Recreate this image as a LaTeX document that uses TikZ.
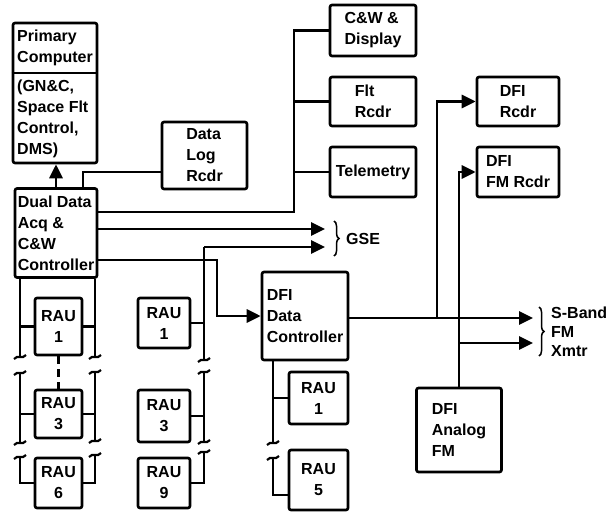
\documentclass[tikz,border=0pt]{standalone}
\usepackage{fontspec}
\setmainfont{Liberation Sans}
\usetikzlibrary{arrows.meta,decorations.pathreplacing,calc}
\tikzset{
  box/.style={draw, line width=2.6pt, rounded corners=2pt, inner sep=0pt,
    font=\fontsize{16}{21}\selectfont\bfseries, align=left},
  rau/.style={box, align=center},
  txt/.style={font=\fontsize{16}{21}\selectfont\bfseries, inner sep=0pt, align=left},
  ln/.style={line width=2.9pt},
  arr/.style={ln, -{Triangle[length=14pt,width=13pt]}},
  brk/.pic={\draw[line width=2.2pt] (-6,2) .. controls (-2,-3) and (2,3) .. (6,-2);},
  brc/.style={decorate, decoration={brace, amplitude=5pt}, line width=1.5pt}
}
\begin{document}
\begin{tikzpicture}[x=1pt,y=-1pt]
\useasboundingbox (0,0) rectangle (607,513);

% boxes
\node[box, minimum width=84pt, minimum height=140pt] (pc) at (55,93) {};
\node[txt, anchor=west] (pct) at (17,48) {Primary\\Computer};
\node[txt, anchor=west] (pcb) at (17,119) {(GN\&C,\\Space Flt\\Control,\\DMS)};
\node[box, minimum width=82pt, minimum height=89pt] (dd) at (56,233) {Dual Data\\Acq \&\\C\&W\\Controller};
\node[box, minimum width=85pt, minimum height=67pt] (dl) at (204.5,155.5) {Data\\Log\\Rcdr};
\node[box, minimum width=86pt, minimum height=51pt] (cw) at (373,30.5) {C\&W \&\\Display};
\node[box, minimum width=86pt, minimum height=49pt] (flt) at (373,101.5) {Flt\\Rcdr};
\node[box, minimum width=86pt, minimum height=50pt] (tel) at (373,172) {Telemetry};
\node[box, minimum width=86pt, minimum height=88pt] (dfic) at (305,316) {DFI\\Data\\Controller};
\node[box, minimum width=82pt, minimum height=49pt] (dfr) at (518,101.5) {DFI\\Rcdr};
\node[box, minimum width=82pt, minimum height=50pt] (dffm) at (518,172) {DFI\\FM Rcdr};
\node[box, minimum width=85pt, minimum height=84pt] (dfa) at (459,430) {DFI\\Analog\\FM};

\node[rau, minimum width=47pt, minimum height=57pt] (r1a) at (58.5,326.5) {RAU\\1};
\node[rau, minimum width=47pt, minimum height=48pt] (r3a) at (58.5,414) {RAU\\3};
\node[rau, minimum width=47pt, minimum height=50pt] (r6a) at (58.5,483) {RAU\\6};
\node[rau, minimum width=52pt, minimum height=50pt] (r1b) at (164,323) {RAU\\1};
\node[rau, minimum width=52pt, minimum height=52pt] (r3b) at (164,416) {RAU\\3};
\node[rau, minimum width=52pt, minimum height=50pt] (r9b) at (164,483) {RAU\\9};
\node[rau, minimum width=59pt, minimum height=52pt] (r1c) at (318.5,398) {RAU\\1};
\node[rau, minimum width=59pt, minimum height=60pt] (r5c) at (318.5,480) {RAU\\5};

% divider in primary computer
\draw[line width=2.6pt] (pc.west |- 0,73) -- (pc.east |- 0,73);

% coordinates
\coordinate (b1) at (294,0);
\coordinate (gse1) at (325,229);
\coordinate (bus2top) at (204,247);
\coordinate (gse2) at (325,247);
\coordinate (k1) at (217,0);
\coordinate (sb1) at (533,318);
\coordinate (sb2) at (533,343);
\coordinate (v1) at (437,318);

% connectors from dual data
\draw[arr] (dd.north) -- (dd.north |- pc.south);
\draw[ln] ([xshift=27pt]dd.north) |- (dl.west |- 0,172);
\draw[ln] (dd.east |- 0,212) -| (b1 |- cw.west) -- (cw.west);
\draw[ln] (b1 |- flt.west) -- (flt.west);
\draw[ln] (b1 |- tel.west) -- (tel.west);
\draw[arr] (dd.east |- gse1) -- (gse1);
\draw[arr] (bus2top) -- (gse2);
\draw[arr] (dd.east |- 0,260) -| (k1 |- dfic.west) -- (dfic.west);

% DFI outputs
\draw[arr] (dfic.east |- sb1) -- (sb1);
\draw[arr] (v1) |- (dfr.west);
\draw[arr] (dfa.north) |- (dffm.west);
\draw[arr] (dfa.north |- sb2) -- (sb2);

% column 1 buses
\draw[ln] (dd.south -| 20,0) -- (20,357);
\draw[ln] (20,373) -- (20,443);
\draw[ln] (20,457) |- (r6a.west);
\draw[ln] (dd.south -| 95,0) -- (95,357);
\draw[ln] (95,372) -- (95,441);
\draw[ln] (95,455) |- (r6a.east);
\draw[ln] (r1a.west) -- (r1a.west -| 20,0);
\draw[ln] (r1a.east) -- (r1a.east -| 95,0);
\draw[ln] (r3a.west) -- (r3a.west -| 20,0);
\draw[ln] (r3a.east) -- (r3a.east -| 95,0);
\draw[ln, dash pattern=on 8pt off 5pt] (r1a.south) -- (r3a.north);
\pic at (20,357) {brk}; \pic at (20,373) {brk};
\pic at (20,443) {brk}; \pic at (20,457) {brk};
\pic at (95,357) {brk}; \pic at (95,372) {brk};
\pic at (95,441) {brk}; \pic at (95,455) {brk};

% column 2 bus
\draw[ln] (bus2top) -- (204,360);
\draw[ln] (204,372) -- (204,442);
\draw[ln] (204,452) |- (r9b.east);
\draw[ln] (r1b.east) -- (r1b.east -| bus2top);
\draw[ln] (r3b.east) -- (r3b.east -| bus2top);
\pic at (204,360) {brk}; \pic at (204,372) {brk};
\pic at (204,442) {brk}; \pic at (204,452) {brk};

% column 3 bus
\draw[ln] (dfic.south -| 273,0) -- (273,443);
\draw[ln] (273,458) |- (r5c.west |- 0,495);
\draw[ln] (r1c.west) -- (r1c.west -| 273,0);
\pic at (273,443) {brk}; \pic at (273,458) {brk};

% braces and labels
\draw[brc] (334,221) -- (334,256);
\node[txt, anchor=west] (gse) at (346,239) {GSE};
\draw[brc] (539,307) -- (539,356);
\node[txt, anchor=west, font=\fontsize{16}{19}\selectfont\bfseries] (sband) at (551,332) {S-Band\\FM\\Xmtr};
\end{tikzpicture}
\end{document}
